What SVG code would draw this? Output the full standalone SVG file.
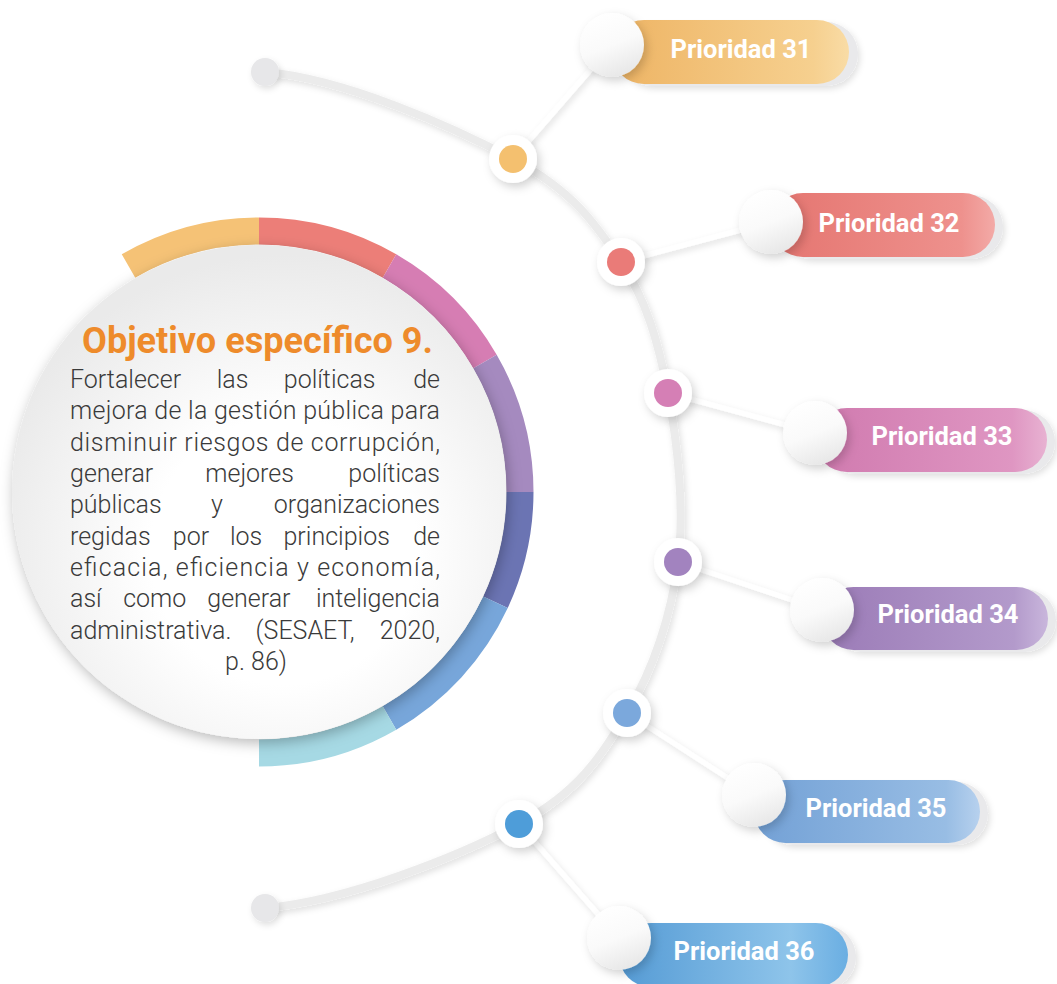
<svg xmlns="http://www.w3.org/2000/svg" width="1057" height="984" viewBox="0 0 1057 984">
<defs>
<style>
.body{font-family:Roboto,"Liberation Sans",sans-serif;font-weight:300;font-size:25px;fill:#3a3a3a}
.lbl{font-family:Roboto,"Liberation Sans",sans-serif;font-weight:700;font-size:25.5px;fill:#ffffff;text-anchor:middle}
.title{font-family:Roboto,"Liberation Sans",sans-serif;font-weight:700;font-size:36px;fill:#ee8b2b}
.seg{fill:none;stroke-width:27}
.ring{fill:#ffffff;filter:url(#sh)}
.knob{fill:url(#knobG);filter:url(#sh)}
.ghost{fill:#e9e9eb}
.link{stroke:#ffffff;stroke-width:5;fill:none;filter:url(#shs)}
</style>
<filter id="sh" x="-30%" y="-30%" width="160%" height="160%">
<feDropShadow dx="3" dy="4" stdDeviation="5" flood-color="#000" flood-opacity="0.18"/>
</filter>
<filter id="shs" x="-30%" y="-30%" width="160%" height="160%">
<feDropShadow dx="2" dy="3" stdDeviation="3" flood-color="#000" flood-opacity="0.12"/>
</filter>
<filter id="shc" x="-20%" y="-20%" width="140%" height="140%">
<feDropShadow dx="2" dy="4" stdDeviation="7" flood-color="#000" flood-opacity="0.28"/>
</filter>
<radialGradient id="discG" cx="0.55" cy="0.62" r="0.6">
<stop offset="0.45" stop-color="#ffffff"/>
<stop offset="1" stop-color="#eaeaea"/>
</radialGradient>
<linearGradient id="knobG" x1="0.3" y1="0" x2="0.7" y2="1">
<stop offset="0" stop-color="#ffffff"/>
<stop offset="0.5" stop-color="#fafafa"/>
<stop offset="1" stop-color="#e6e6e6"/>
</linearGradient>
<linearGradient id="g31" x1="0" y1="0" x2="1" y2="0">
<stop offset="0" stop-color="#eeb464"/><stop offset="0.85" stop-color="#f6d08f"/><stop offset="1" stop-color="#f9dca6"/>
</linearGradient>
<linearGradient id="g32" x1="0" y1="0" x2="1" y2="0">
<stop offset="0" stop-color="#e57570"/><stop offset="0.85" stop-color="#ee918d"/><stop offset="1" stop-color="#f3aaa7"/>
</linearGradient>
<linearGradient id="g33" x1="0" y1="0" x2="1" y2="0">
<stop offset="0" stop-color="#d07aaf"/><stop offset="0.85" stop-color="#df96c2"/><stop offset="1" stop-color="#e8b2d2"/>
</linearGradient>
<linearGradient id="g34" x1="0" y1="0" x2="1" y2="0">
<stop offset="0" stop-color="#9b7bb7"/><stop offset="0.85" stop-color="#b39acb"/><stop offset="1" stop-color="#c9b6dc"/>
</linearGradient>
<linearGradient id="g35" x1="0" y1="0" x2="1" y2="0">
<stop offset="0" stop-color="#73a1d6"/><stop offset="0.85" stop-color="#98bde4"/><stop offset="1" stop-color="#b7d1ee"/>
</linearGradient>
<linearGradient id="g36" x1="0" y1="0" x2="1" y2="0">
<stop offset="0" stop-color="#559bd5"/><stop offset="0.75" stop-color="#8ec4ea"/><stop offset="1" stop-color="#6aaee2"/>
</linearGradient>
</defs>

<rect width="1057" height="984" fill="#ffffff"/>

<g id="connectors">
<path d="M265,72 C345,78.7 453.7,127.3 513,159 C572.3,190.7 595.2,223 621,262 C646.8,301 658.5,343 668,393 C677.5,443 684.8,508.7 678,562 C671.2,615.3 653.5,669.3 627,713 C600.5,756.7 579.3,791.5 519,824 C458.7,856.5 345,901.3 265,908" fill="none" stroke="#ebebeb" stroke-width="8" filter="url(#shs)"/>
<circle cx="265" cy="72" r="14" fill="#e7e7e9" filter="url(#shs)"/>
<circle cx="265" cy="908" r="14" fill="#e7e7e9" filter="url(#shs)"/>
<line class="link" x1="513" y1="159" x2="612" y2="45"/>
<line class="link" x1="621" y1="262" x2="771" y2="222"/>
<line class="link" x1="668" y1="393" x2="815" y2="433"/>
<line class="link" x1="678" y1="562" x2="822" y2="610"/>
<line class="link" x1="627" y1="713" x2="754" y2="795"/>
<line class="link" x1="519" y1="824" x2="619" y2="938"/>
</g>

<g id="center-node">
<path class="seg" stroke="#f5c276" d="M128.5,265.97 A261,261 0 0 1 259,231"/>
<path class="seg" stroke="#ec7e78" d="M259,231 A261,261 0 0 1 389.5,265.97"/>
<path class="seg" stroke="#d67db3" d="M389.5,265.97 A261,261 0 0 1 485,361.5"/>
<path class="seg" stroke="#a58abf" d="M485,361.5 A261,261 0 0 1 520,492"/>
<path class="seg" stroke="#6b74b3" d="M520,492 A261,261 0 0 1 495.5,602.3"/>
<path class="seg" stroke="#77a6da" d="M495.5,602.3 A261,261 0 0 1 389.5,718"/>
<path class="seg" stroke="#a6d9e4" d="M389.5,718 A261,261 0 0 1 259,753"/>
<circle cx="259" cy="492" r="247" fill="url(#discG)" filter="url(#shc)"/>
<text class="title" x="82" y="353" textLength="351" lengthAdjust="spacingAndGlyphs">Objetivo específico 9.</text>
<text class="body" x="70" y="388">Fortalecer</text>
<text class="body" x="216.7" y="388">las</text>
<text class="body" x="283.8" y="388">políticas</text>
<text class="body" x="440" y="388" text-anchor="end">de</text>
<text class="body" x="70" y="419.3" textLength="370" lengthAdjust="spacing">mejora de la gestión pública para</text>
<text class="body" x="70" y="450.7" textLength="370" lengthAdjust="spacing">disminuir riesgos de corrupción,</text>
<text class="body" x="70" y="482">generar</text>
<text class="body" x="205.3" y="482">mejores</text>
<text class="body" x="440" y="482" text-anchor="end">políticas</text>
<text class="body" x="70" y="513.3">públicas</text>
<text class="body" x="211" y="513.3">y</text>
<text class="body" x="440" y="513.3" text-anchor="end">organizaciones</text>
<text class="body" x="70" y="544.7">regidas</text>
<text class="body" x="172.8" y="544.7">por</text>
<text class="body" x="229.9" y="544.7">los</text>
<text class="body" x="283.5" y="544.7">principios</text>
<text class="body" x="440" y="544.7" text-anchor="end">de</text>
<text class="body" x="70" y="576" textLength="370" lengthAdjust="spacing">eficacia, eficiencia y economía,</text>
<text class="body" x="70" y="607.3">así</text>
<text class="body" x="123.2" y="607.3">como</text>
<text class="body" x="207.3" y="607.3">generar</text>
<text class="body" x="440" y="607.3" text-anchor="end">inteligencia</text>
<text class="body" x="70" y="638.7">administrativa.</text>
<text class="body" x="255.6" y="638.7">(SESAET,</text>
<text class="body" x="440" y="638.7" text-anchor="end">2020,</text>
<text class="body" x="256" y="670" text-anchor="middle">p. 86)</text>
</g>

<g id="p31">
<rect class="ghost" x="620" y="22" width="238" height="64" rx="32" filter="url(#shs)"/>
<rect x="612" y="20" width="237" height="64" rx="32" fill="url(#g31)"/>
<circle class="knob" cx="612" cy="45" r="32"/>
<text class="lbl" x="741" y="58">Prioridad 31</text>
<circle class="ring" cx="513" cy="159" r="24"/>
<circle cx="513" cy="159" r="14" fill="#f4c06f"/>
</g>

<g id="p32">
<rect class="ghost" x="779" y="195" width="224" height="64" rx="32" filter="url(#shs)"/>
<rect x="771" y="193" width="224" height="64" rx="32" fill="url(#g32)"/>
<circle class="knob" cx="771" cy="222" r="32"/>
<text class="lbl" x="889" y="232">Prioridad 32</text>
<circle class="ring" cx="621" cy="262" r="24"/>
<circle cx="621" cy="262" r="14" fill="#ea7b78"/>
</g>

<g id="p33">
<rect class="ghost" x="823" y="410" width="232" height="64" rx="32" filter="url(#shs)"/>
<rect x="815" y="408" width="232" height="64" rx="32" fill="url(#g33)"/>
<circle class="knob" cx="815" cy="433" r="32"/>
<text class="lbl" x="942" y="445">Prioridad 33</text>
<circle class="ring" cx="668" cy="393" r="24"/>
<circle cx="668" cy="393" r="14" fill="#d57fb5"/>
</g>

<g id="p34">
<rect class="ghost" x="830" y="589" width="226" height="63" rx="31.5" filter="url(#shs)"/>
<rect x="822" y="587" width="226" height="63" rx="31.5" fill="url(#g34)"/>
<circle class="knob" cx="822" cy="610" r="32"/>
<text class="lbl" x="948" y="623">Prioridad 34</text>
<circle class="ring" cx="678" cy="562" r="24"/>
<circle cx="678" cy="562" r="14" fill="#a283bf"/>
</g>

<g id="p35">
<rect class="ghost" x="762" y="782" width="226" height="63" rx="31.5" filter="url(#shs)"/>
<rect x="754" y="780" width="226" height="63" rx="31.5" fill="url(#g35)"/>
<circle class="knob" cx="754" cy="795" r="32"/>
<text class="lbl" x="876" y="817">Prioridad 35</text>
<circle class="ring" cx="627" cy="713" r="24"/>
<circle cx="627" cy="713" r="14" fill="#7ba8dc"/>
</g>

<g id="p36">
<rect class="ghost" x="627" y="925" width="229" height="64" rx="32" filter="url(#shs)"/>
<rect x="619" y="923" width="229" height="64" rx="32" fill="url(#g36)"/>
<circle class="knob" cx="619" cy="938" r="32"/>
<text class="lbl" x="744" y="960">Prioridad 36</text>
<circle class="ring" cx="519" cy="824" r="24"/>
<circle cx="519" cy="824" r="14" fill="#4e9dd9"/>
</g>
</svg>
